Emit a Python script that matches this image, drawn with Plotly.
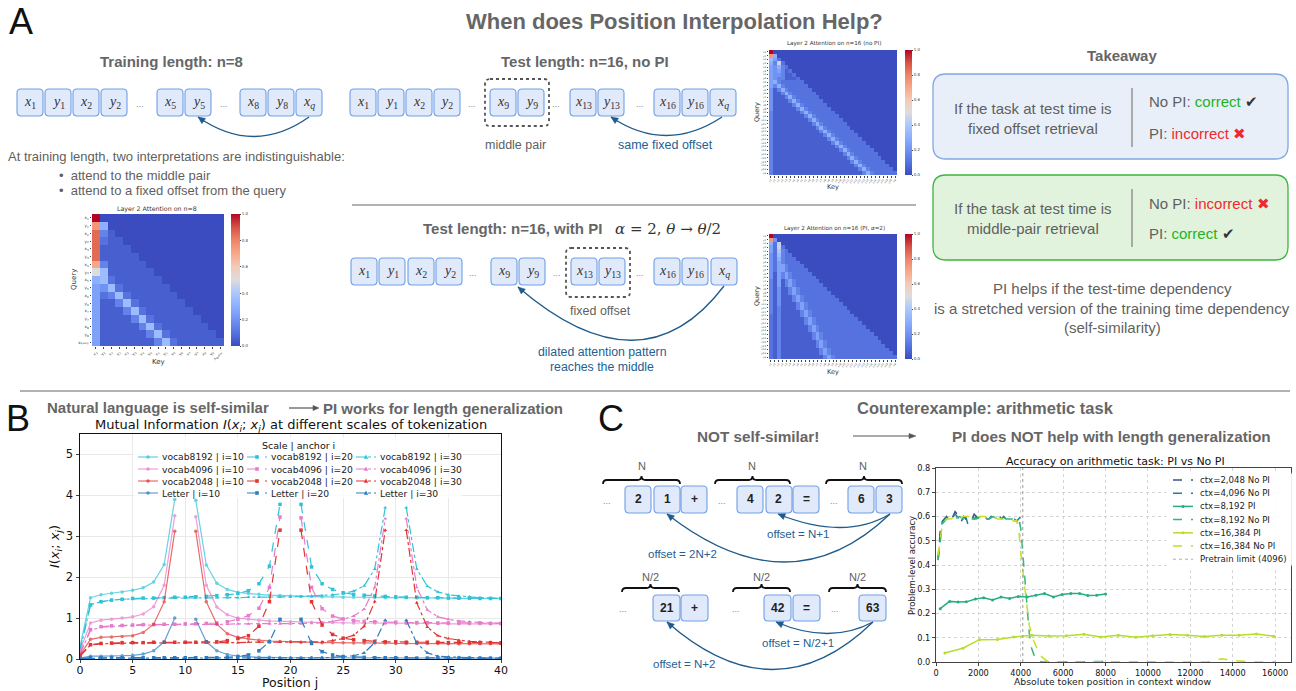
import plotly.graph_objects as go

W, H = 1296, 691

# ======================= DATA =======================
# ---- Panel B: mutual information I(x_i; x_j) vs position j ----
positions_j = list(range(41))
mi_vocab8192_i10 = [0.30,1.50,1.57,1.61,1.64,1.68,1.74,1.88,2.31,3.90,None,3.88,2.30,1.85,1.70,1.63,1.60,1.58,1.56,1.55,1.54,1.53,1.53,1.52,1.52,1.51,1.51,1.51,1.50,1.50,1.50,1.50,1.49,1.49,1.49,1.49,1.48,1.48,1.48,1.48,1.48]
mi_vocab8192_i20 = [0.25,1.32,1.40,1.44,1.46,1.48,1.49,1.49,1.50,1.51,1.51,1.52,1.53,1.55,1.57,1.60,1.67,1.84,2.27,3.78,None,3.78,2.25,1.84,1.70,1.62,1.58,1.56,1.54,1.53,1.52,1.51,1.51,1.50,1.50,1.49,1.49,1.49,1.48,1.48,1.48]
mi_vocab8192_i30 = [0.20,1.33,1.40,1.44,1.46,1.47,1.48,1.48,1.49,1.49,1.49,1.50,1.50,1.50,1.50,1.50,1.51,1.51,1.51,1.52,1.52,1.53,1.54,1.55,1.57,1.60,1.66,1.79,2.20,3.70,None,3.70,2.20,1.78,1.64,1.57,1.54,1.52,1.50,1.49,1.48]
mi_vocab4096_i10 = [0.20,0.88,0.95,0.97,1.00,1.03,1.10,1.28,1.80,3.50,None,3.48,1.80,1.27,1.08,1.00,0.97,0.95,0.93,0.92,0.91,0.90,0.90,0.89,0.89,0.88,0.88,0.88,0.88,0.87,0.87,0.87,0.87,0.87,0.87,0.86,0.86,0.86,0.86,0.86,0.86]
mi_vocab4096_i20 = [0.15,0.72,0.79,0.81,0.82,0.83,0.84,0.84,0.85,0.85,0.86,0.86,0.87,0.88,0.91,0.97,1.06,1.24,1.75,3.47,None,3.45,1.75,1.23,1.05,0.98,0.94,0.92,0.91,0.90,0.90,0.89,0.89,0.89,0.88,0.88,0.88,0.88,0.88,0.87,0.87]
mi_vocab4096_i30 = [0.12,0.70,0.78,0.80,0.81,0.82,0.83,0.83,0.84,0.84,0.84,0.85,0.85,0.85,0.85,0.86,0.86,0.86,0.86,0.86,0.86,0.86,0.87,0.89,0.92,0.97,1.05,1.22,1.75,3.43,None,3.43,1.75,1.20,1.03,0.97,0.93,0.91,0.89,0.88,0.88]
mi_vocab2048_i10 = [0.10,0.48,0.53,0.54,0.55,0.57,0.65,0.85,1.40,3.12,None,3.12,1.40,0.85,0.62,0.53,0.49,0.46,0.44,0.43,0.42,0.41,0.41,0.40,0.40,0.40,0.39,0.39,0.39,0.39,0.38,0.38,0.38,0.38,0.38,0.37,0.37,0.37,0.37,0.37,0.37]
mi_vocab2048_i20 = [0.08,0.35,0.38,0.39,0.40,0.40,0.40,0.41,0.41,0.41,0.41,0.41,0.42,0.42,0.45,0.50,0.57,0.80,1.40,3.15,None,3.15,1.40,0.83,0.60,0.51,0.47,0.45,0.43,0.42,0.42,0.41,0.41,0.41,0.41,0.40,0.40,0.40,0.40,0.40,0.40]
mi_vocab2048_i30 = [0.07,0.34,0.37,0.38,0.38,0.39,0.39,0.39,0.39,0.40,0.40,0.40,0.40,0.40,0.40,0.40,0.41,0.41,0.41,0.41,0.41,0.41,0.42,0.42,0.45,0.50,0.58,0.80,1.40,3.15,None,3.15,1.37,0.78,0.57,0.50,0.46,0.43,0.42,0.41,0.38]
mi_letter_i10 = [0.02,0.07,0.07,0.07,0.08,0.09,0.12,0.20,0.42,1.00,None,0.97,0.42,0.20,0.11,0.07,0.05,0.04,0.04,0.03,0.03,0.03,0.03,0.03,0.03,0.03,0.02,0.02,0.02,0.02,0.02,0.02,0.02,0.02,0.02,0.02,0.02,0.02,0.02,0.02,0.02]
mi_letter_i20 = [0.01,0.03,0.03,0.03,0.03,0.03,0.03,0.03,0.03,0.03,0.03,0.03,0.03,0.03,0.04,0.06,0.10,0.20,0.42,0.97,None,0.97,0.38,0.18,0.10,0.06,0.05,0.04,0.03,0.03,0.03,0.03,0.02,0.02,0.02,0.02,0.02,0.02,0.02,0.02,0.02]
mi_letter_i30 = [0.01,0.02,0.02,0.02,0.02,0.02,0.02,0.02,0.02,0.02,0.02,0.02,0.02,0.02,0.02,0.02,0.02,0.02,0.02,0.02,0.02,0.02,0.03,0.03,0.04,0.06,0.08,0.15,0.40,0.95,None,0.95,0.38,0.15,0.07,0.05,0.04,0.03,0.03,0.02,0.02]

scale_names = ["vocab8192", "vocab4096", "vocab2048", "Letter"]
anchor_ids = [10, 20, 30]
mi_series = {
    ("vocab8192", 10): mi_vocab8192_i10, ("vocab8192", 20): mi_vocab8192_i20, ("vocab8192", 30): mi_vocab8192_i30,
    ("vocab4096", 10): mi_vocab4096_i10, ("vocab4096", 20): mi_vocab4096_i20, ("vocab4096", 30): mi_vocab4096_i30,
    ("vocab2048", 10): mi_vocab2048_i10, ("vocab2048", 20): mi_vocab2048_i20, ("vocab2048", 30): mi_vocab2048_i30,
    ("Letter", 10): mi_letter_i10, ("Letter", 20): mi_letter_i20, ("Letter", 30): mi_letter_i30,
}

# ---- Panel C: accuracy vs absolute token position ----
acc_2048_nopi_x = [100,200,300,400,500,600,700,800,900,1000,1100,1200,1300,1400,1500,1600,1700,1800,1900,2000]
acc_2048_nopi_y = [0.43,0.54,0.58,0.59,0.60,0.59,0.61,0.60,0.62,0.61,0.59,0.58,0.60,0.59,0.60,0.60,0.59,0.61,0.60,0.59]
acc_4096_nopi_x = [100,200,300,400,500,600,700,800,900,1000,1100,1200,1300,1400,1500,1600,1700,1800,1900,2000,
                   2100,2200,2300,2400,2500,2600,2700,2800,2900,3000,3100,3200,3300,3400,3500,3600,3700,3800,3900,4000]
acc_4096_nopi_y = [0.42,0.53,0.58,0.59,0.60,0.60,0.59,0.60,0.61,0.60,0.59,0.60,0.59,0.60,0.57,0.59,0.60,0.59,0.60,0.59,
                   0.59,0.59,0.60,0.59,0.59,0.60,0.59,0.59,0.60,0.60,0.59,0.60,0.59,0.59,0.59,0.59,0.59,0.58,0.59,0.60]
acc_8192_pi_x = [200,640,1040,1430,1860,2250,2670,3070,3470,3880,4300,4710,5120,5540,5950,6360,6780,7160,7580,8000]
acc_8192_pi_y = [0.22,0.25,0.247,0.248,0.26,0.265,0.256,0.268,0.262,0.27,0.268,0.275,0.282,0.268,0.278,0.282,0.282,0.274,0.275,0.28]
acc_8192_nopi_x = [100,300,500,700,900,1100,1300,1500,1700,1900,2100,2300,2500,2700,2900,3100,3300,3500,3700,3900,
                   4000,4100,4200,4300,4400,4500,4600,4700,4800,5000,5500,6000,6500,7000,7500,8000]
acc_8192_nopi_y = [0.42,0.57,0.59,0.60,0.59,0.60,0.59,0.60,0.59,0.59,0.60,0.59,0.59,0.60,0.59,0.60,0.59,0.59,0.59,0.59,
                   0.55,0.44,0.32,0.20,0.12,0.06,0.03,0.01,0.005,0.0,0.0,0.001,0.0,0.002,0.003,0.002]
acc_16384_pi_x = [420,1270,2050,2900,3670,4530,5330,6150,6980,7780,8600,9430,10230,11040,11860,12670,13490,14300,15120,15950]
acc_16384_pi_y = [0.037,0.057,0.092,0.093,0.103,0.11,0.107,0.108,0.114,0.103,0.11,0.102,0.108,0.113,0.11,0.105,0.11,0.11,0.115,0.106]
acc_16384_nopi_x = [100,300,500,700,900,1100,1300,1500,1700,1900,2100,2300,2500,2700,2900,3100,3300,3500,3700,
                    3800,3900,4000,4200,4400,4600,4800,5000,5300,6000,7000,8000,9000,10000,11000,12000,12800,
                    13500,14000,14500,15000,16000]
acc_16384_nopi_y = [0.44,0.57,0.59,0.59,0.60,0.59,0.60,0.60,0.60,0.60,0.60,0.60,0.59,0.60,0.59,0.59,0.59,0.59,0.58,
                    0.585,0.55,0.45,0.30,0.15,0.09,0.05,0.02,0.0,0.0,0.001,0.002,0.0,0.001,0.0,0.0,0.0,
                    0.013,0.006,0.003,0.0,0.0]
pretrain_limit = 4096
acc_names = ["ctx=2,048 No PI", "ctx=4,096 No PI", "ctx=8,192 PI", "ctx=8,192 No PI", "ctx=16,384 PI", "ctx=16,384 No PI"]

# ---- Attention heatmaps: one char per cell, value = base36(char)/20 ----
heat_n8_rows = [
    "k", "f6", "h31", "h211", "h1111", "h11111", "e311111", "a7111111",
    "672111111", "5472111111", "52372111111", "511372111111", "5111372111111",
    "51111372111111", "511111372111111", "5111111372111111", "51111111372111111",
]
heat_n16_nopi_rows = [
    "k", "f6", "752", "6392", "54632", "545312", "5443112", "54331112",
    "563222222", "5363222222", "41363222222", "411363222222", "4111363222222",
    "41111363222222", "411111363222222", "4111111363222222", "31111111363222222",
    "311111111363222222", "3111111111363222222", "31111111111363222222",
    "311111111111363222222", "3111111111111363222222", "31111111111111363222222",
    "311111111111111363222222", "3111111111111111363222222", "31111111111111111363222222",
    "311111111111111111363222222", "3111111111111111111363222222", "31111111111111111111363222222",
    "311111111111111111111363222222", "3111111111111111111111363222222",
    "31111111111111111111111363222222", "311111111111111111111111363222222",
]
heat_n16_pi_rows = [
    "k", "f4", "629", "5292", "52832", "427322", "4263222", "42532222",
    "425532222", "4255322222", "41535322222", "415353222222", "3151353222222",
    "31513532222222", "314113532222222", "3141135322222222", "31411135322222222",
    "314111353222222222", "3141111353222222222", "31311113532222222222",
    "313111113532222222222", "2131111135322222222222", "21311111135322222222222",
    "213111111353222222222222", "2131111111353222222222222", "21311111113532222222222222",
    "213111111113532222222222222", "2131111111135322222222222222", "21311111111135322222222222222",
    "213111111111353222222222222222", "2131111111111353222222222222222",
    "21311111111113532222222222222222", "213111111111113532222222222222222",
]
heat_n8_labels = ["x<sub>1</sub>","y<sub>1</sub>","x<sub>2</sub>","y<sub>2</sub>","x<sub>3</sub>","y<sub>3</sub>",
                  "x<sub>4</sub>","y<sub>4</sub>","x<sub>5</sub>","y<sub>5</sub>","x<sub>6</sub>","y<sub>6</sub>",
                  "x<sub>7</sub>","y<sub>7</sub>","x<sub>8</sub>","y<sub>8</sub>","x<sub>query</sub>"]
heat_n16_labels = ["x1","y1","x2","y2","x3","y3","x4","y4","x5","y5","x6","y6","x7","y7","x8","y8",
                   "x9","y9","x10","y10","x11","y11","x12","y12","x13","y13","x14","y14","x15","y15",
                   "x16","y16","xq"]

# ---- Diagram token sequences ----
train_tokens = ["x1","y1","x2","y2","...","x5","y5","...","x8","y8","xq"]
test_tokens_nopi = ["x1","y1","x2","y2","...","x9","y9","...","x13","y13","...","x16","y16","xq"]
test_tokens_pi = ["x1","y1","x2","y2","...","x9","y9","...","x13","y13","...","x16","y16","xq"]
arith_row1 = ["...","2","1","+","...","4","2","=","...","6","3"]
arith_row2 = ["...","21","+","...","42","=","...","63"]

# ======================= HELPERS =======================
def X(p): return p / W
def Y(p): return 1 - p / H

fig = go.Figure()
shapes = []

def T(x, y, text, size=11, color="#555", family="Liberation Sans", xanchor="center", angle=0):
    fig.add_annotation(x=X(x), y=Y(y), xref="paper", yref="paper", text=text, showarrow=False,
                       font=dict(size=size, color=color, family=family), xanchor=xanchor,
                       yanchor="middle", textangle=angle, borderpad=0)

def P(x, y): return f"{X(x):.5f},{Y(y):.5f}"

def rrect(x0, y0, x1, y1, r, fill, line, width=1.0, dash="solid", layer="below"):
    path = (f"M {P(x0+r,y0)} L {P(x1-r,y0)} Q {P(x1,y0)} {P(x1,y0+r)} L {P(x1,y1-r)} "
            f"Q {P(x1,y1)} {P(x1-r,y1)} L {P(x0+r,y1)} Q {P(x0,y1)} {P(x0,y1-r)} "
            f"L {P(x0,y0+r)} Q {P(x0,y0)} {P(x0+r,y0)} Z")
    shapes.append(dict(type="path", path=path, xref="paper", yref="paper", fillcolor=fill,
                       line=dict(color=line, width=width, dash=dash), layer=layer))

def seg(x0, y0, x1, y1, color="#777", width=1.0, dash="solid", opacity=1.0):
    shapes.append(dict(type="line", x0=X(x0), y0=Y(y0), x1=X(x1), y1=Y(y1), xref="paper", yref="paper",
                       line=dict(color=color, width=width, dash=dash), opacity=opacity, layer="above"))

def head(tx, ty, dx, dy, color, L=7, hw=3.2):
    n = (dx*dx + dy*dy) ** 0.5
    dx, dy = dx/n, dy/n
    bx, by = tx - L*dx, ty - L*dy
    nx, ny = -dy, dx
    path = f"M {P(tx,ty)} L {P(bx+hw*nx,by+hw*ny)} L {P(bx-hw*nx,by-hw*ny)} Z"
    shapes.append(dict(type="path", path=path, xref="paper", yref="paper", fillcolor=color,
                       line=dict(color=color, width=0.5)))

def curve_arrow(p0, c, p2, color="#1f5a8a", width=1.3):
    path = f"M {P(*p0)} Q {P(*c)} {P(*p2)}"
    shapes.append(dict(type="path", path=path, xref="paper", yref="paper",
                       line=dict(color=color, width=width)))
    head(p2[0], p2[1], p2[0]-c[0], p2[1]-c[1], color)

def brace(x0, x1, yb, h=8, color="#111"):
    ym, yt, xm, q = yb - h/2, yb - h, (x0+x1)/2, h/2
    path = (f"M {P(x0,yb)} Q {P(x0,ym)} {P(x0+q,ym)} L {P(xm-q,ym)} Q {P(xm,ym)} {P(xm,yt)} "
            f"Q {P(xm,ym)} {P(xm+q,ym)} L {P(x1-q,ym)} Q {P(x1,ym)} {P(x1,yb)}")
    shapes.append(dict(type="path", path=path, xref="paper", yref="paper", line=dict(color=color, width=1.8)))

def mark(x, y, symbol, color, r=1.9, opacity=1.0):
    if symbol == "circle":
        shapes.append(dict(type="circle", x0=X(x-r), x1=X(x+r), y0=Y(y+r), y1=Y(y-r), xref="paper",
                           yref="paper", fillcolor=color, line=dict(width=0), opacity=opacity, layer="above"))
    elif symbol == "square":
        shapes.append(dict(type="rect", x0=X(x-r), x1=X(x+r), y0=Y(y+r), y1=Y(y-r), xref="paper",
                           yref="paper", fillcolor=color, line=dict(width=0), opacity=opacity, layer="above"))
    else:
        path = f"M {P(x, y-r-0.6)} L {P(x+r+0.4, y+r)} L {P(x-r-0.4, y+r)} Z"
        shapes.append(dict(type="path", path=path, xref="paper", yref="paper", fillcolor=color,
                           line=dict(width=0), opacity=opacity, layer="above"))

def tok_html(t):
    if t[0] in "xy":
        s = t[1:]
        if s == "q":
            return f"<i>{t[0]}<sub>q</sub></i>"
        return f"<i>{t[0]}</i><sub>{s}</sub>"
    return f"<b>{t}</b>"

TOK_FILL, TOK_LINE = "#e1eafa", "#6f9fe6"

def token_row(tokens, pos, y0, y1, w, math=True):
    for t, p in zip(tokens, pos):
        if t == "...":
            T(p, (y0+y1)/2 + 1, "...", 9, "#888")
        else:
            rrect(p, y0, p+w, y1, 4, TOK_FILL, TOK_LINE, 1.1)
            if math:
                T(p + w/2, (y0+y1)/2, tok_html(t), 14, "#333", "Liberation Serif")
            else:
                T(p + w/2, (y0+y1)/2, tok_html(t), 12, "#222", "Liberation Sans")

# ======================= PANEL B CHART =======================
scale_colors = {"vocab8192": "#2ec3d6", "vocab4096": "#e67ccb", "vocab2048": "#e03636", "Letter": "#2f7cc0"}
anchor_dash = {10: "solid", 20: "dash", 30: "dashdot"}
anchor_symbol = {10: "circle", 20: "square", 30: "triangle-up"}
anchor_opacity = {10: 0.72, 20: 1.0, 30: 1.0}
for s in scale_names:
    for a in anchor_ids:
        fig.add_trace(go.Scatter(
            x=positions_j, y=mi_series[(s, a)], mode="lines+markers", name=f"{s} | i={a}",
            line=dict(color=scale_colors[s], width=1.2, dash=anchor_dash[a]),
            marker=dict(symbol=anchor_symbol[a], size=3.5, color=scale_colors[s]),
            opacity=anchor_opacity[a], connectgaps=False, xaxis="x", yaxis="y", showlegend=False))

# legend for panel B (3 columns x 4 rows, drawn compactly like the original)
rrect(134, 437, 462, 498, 3, "rgba(255,255,255,0.8)", "rgba(255,255,255,0)", 0, layer="above")
T(298, 445, "Scale | anchor i", 9.5, "#111", "DejaVu Sans")
col_x = {10: 138, 20: 247, 30: 356}
for ri, s in enumerate(scale_names):
    yy = 457 + 12 * ri
    for a in anchor_ids:
        xx = col_x[a]
        seg(xx, yy, xx + 20, yy, scale_colors[s], 1.2, anchor_dash[a], anchor_opacity[a])
        mark(xx + 10, yy, anchor_symbol[a], scale_colors[s], 1.8, anchor_opacity[a])
        T(xx + 23, yy, f"{s} | i={a}", 9.2, "#222", "DejaVu Sans", xanchor="left")

# ======================= PANEL C CHART =======================
acc_colors = ["#3d4f8a", "#23808e", "#27ad81", "#35b779", "#b5dd2b", "#c4e021"]
acc_dash = ["dash", "dash", "solid", "dash", "solid", "dash"]
acc_markers = [False, False, True, False, True, False]
acc_data = [(acc_2048_nopi_x, acc_2048_nopi_y), (acc_4096_nopi_x, acc_4096_nopi_y),
            (acc_8192_pi_x, acc_8192_pi_y), (acc_8192_nopi_x, acc_8192_nopi_y),
            (acc_16384_pi_x, acc_16384_pi_y), (acc_16384_nopi_x, acc_16384_nopi_y)]
for (xs, ys), nm, col, dsh, mk in zip(acc_data, acc_names, acc_colors, acc_dash, acc_markers):
    fig.add_trace(go.Scatter(x=xs, y=ys, name=nm, mode="lines+markers" if mk else "lines",
                             line=dict(color=col, width=1.5, dash=dsh), marker=dict(size=3, color=col),
                             xaxis="x2", yaxis="y2", showlegend=False))
fig.add_trace(go.Scatter(x=[pretrain_limit, pretrain_limit], y=[0, 0.8], mode="lines",
                         name=f"Pretrain limit ({pretrain_limit})",
                         line=dict(color="#999", width=1, dash="dot"), xaxis="x2", yaxis="y2", showlegend=False))

# legend for panel C
rrect(1166, 472, 1292, 567, 3, "rgba(255,255,255,0.9)", "rgba(255,255,255,0)", 0, layer="above")
leg_names = acc_names + [f"Pretrain limit ({pretrain_limit})"]
leg_cols = acc_colors + ["#aaa"]
leg_dash = acc_dash + ["dot"]
leg_mk = acc_markers + [False]
for k, (nm, col, dsh, mk) in enumerate(zip(leg_names, leg_cols, leg_dash, leg_mk)):
    yy = 480 + 13.2 * k
    seg(1173, yy, 1193, yy, col, 1.5 if k < 6 else 1.0, dsh)
    if mk:
        mark(1183, yy, "circle", col, 1.5)
    T(1199, yy, nm, 8.6, "#222", "DejaVu Sans", xanchor="left")

# ======================= HEATMAPS =======================
coolwarm = [[0.0, "#3b4cc0"], [0.1, "#5572df"], [0.2, "#7093f3"], [0.3, "#8db0fe"], [0.4, "#aac7fd"],
            [0.5, "#dddcdc"], [0.6, "#f2cbb7"], [0.7, "#f7a889"], [0.8, "#ee8468"], [0.9, "#d65244"],
            [1.0, "#b40426"]]

def decode(rows, n):
    return [[int(ch, 36) / 20 for ch in r.ljust(n, "0")[:n]] for r in rows]

def add_heat(rows, labels, xa, ya, box, cbx, cbth, tickfs):
    n = len(labels)
    x0, y0, x1, y1 = box
    fig.add_trace(go.Heatmap(
        z=decode(rows, n), x=list(range(n)), y=list(range(n)), colorscale=coolwarm, zmin=0, zmax=1,
        xaxis=xa, yaxis=ya, xgap=0, ygap=0, hoverinfo="skip",
        colorbar=dict(x=X(cbx), xanchor="left", xpad=0, ypad=0, y=(Y(y0)+Y(y1))/2, yanchor="middle",
                      len=(y1-y0)/H, lenmode="fraction", thickness=cbth, outlinewidth=0, ticks="outside",
                      ticklen=1.5, tickvals=[0, 0.2, 0.4, 0.6, 0.8, 1.0],
                      ticktext=["0.0", "0.2", "0.4", "0.6", "0.8", "1.0"],
                      tickfont=dict(size=4, color="#444"))))
    ax = dict(domain=[X(x0), X(x1)], range=[-0.5, n-0.5], showgrid=False, zeroline=False,
              tickvals=list(range(n)), ticktext=labels, tickfont=dict(size=tickfs, color="#444"),
              ticks="outside", ticklen=1.5, tickangle=-50, showline=False, anchor=ya, automargin=False)
    ay = dict(domain=[Y(y1), Y(y0)], range=[n-0.5, -0.5], showgrid=False, zeroline=False,
              tickvals=list(range(n)), ticktext=labels, tickfont=dict(size=tickfs, color="#444"),
              ticks="outside", ticklen=1.5, showline=False, anchor=xa, automargin=False)
    return ax, ay

ax3, ay3 = add_heat(heat_n8_rows, heat_n8_labels, "x3", "y3", (92, 214, 224, 346), 231, 9, 4)
ax4, ay4 = add_heat(heat_n16_nopi_rows, heat_n16_labels, "x4", "y4", (769, 50, 897, 175), 905, 7, 2.5)
ax5, ay5 = add_heat(heat_n16_pi_rows, heat_n16_labels, "x5", "y5", (769, 234, 897, 359), 905, 7, 2.5)

T(157, 209, "Layer 2 Attention on n=8", 6.3, "#333", "DejaVu Sans")
T(74, 280, "Query", 7, "#333", "DejaVu Sans", angle=-90)
T(158, 362, "Key", 7, "#333", "DejaVu Sans")
T(834, 44, "Layer 2 Attention on n=16 (no PI)", 5.6, "#333", "DejaVu Sans")
T(757, 112, "Query", 6.5, "#333", "DejaVu Sans", angle=-90)
T(833, 187, "Key", 6.5, "#333", "DejaVu Sans")
T(834, 229, "Layer 2 Attention on n=16 (PI, <i>α</i>=2)", 5.6, "#333", "DejaVu Sans")
T(757, 296, "Query", 6.5, "#333", "DejaVu Sans", angle=-90)
T(833, 372, "Key", 6.5, "#333", "DejaVu Sans")

# ======================= PANEL A DIAGRAM =======================
GRAY = "#5f5f5f"
BLUE_T = "#245f93"
T(21, 22, "A", 36, "#111")
T(674, 21, "<b>When does Position Interpolation Help?</b>", 22, "#666")
T(171, 62, "<b>Training length: n=8</b>", 15, "#666")
T(585, 62, "<b>Test length: n=16, no PI</b>", 15, "#666")

train_pos = [17, 45, 73, 101, 140, 157, 185, 224, 240, 268, 296]
nopi_pos = [350, 378, 406, 434, 472, 490, 518, 556, 570, 598, 640, 654, 682, 710]
pi_pos = [351, 379, 408, 436, 473, 491, 519, 557, 571, 599, 640, 654, 682, 711]
token_row(train_tokens, train_pos, 89, 116, 26)
token_row(test_tokens_nopi, nopi_pos, 89, 116, 26)
token_row(test_tokens_pi, pi_pos, 258, 285, 26)

rrect(485, 79, 549, 126, 5, "rgba(0,0,0,0)", "#555", 1.8, "dot")
rrect(566, 248, 630, 297, 5, "rgba(0,0,0,0)", "#555", 1.8, "dot")

curve_arrow((309, 117), (254, 156), (198, 117))
curve_arrow((722, 117), (666, 154), (611, 117))
curve_arrow((724, 286), (642, 394), (518, 287))

T(515, 145, "middle pair", 12.5, GRAY)
T(665, 145, "same fixed offset", 12.5, BLUE_T)
T(600, 311, "fixed offset", 12.5, GRAY)
T(602, 352, "dilated attention pattern", 12.3, BLUE_T)
T(602, 367, "reaches the middle", 12.3, BLUE_T)

T(7, 157, "At training length, two interpretations are indistinguishable:", 13, GRAY, xanchor="left")
T(58, 175, "•  attend to the middle pair", 13, GRAY, xanchor="left")
T(58, 190, "•  attend to a fixed offset from the query", 13, GRAY, xanchor="left")

seg(352, 205, 916, 205, "#666", 1.2)
T(512, 229, "<b>Test length: n=16, with PI</b>", 15, "#666")
T(614, 229, "<i>α</i> = 2, <i>θ</i> → <i>θ</i>/2", 15, "#333", "DejaVu Serif", xanchor="left")

# Takeaway panel
T(1122, 55, "<b>Takeaway</b>", 15, "#666")
rrect(933, 74, 1288, 159, 13, "#e9eff9", "#7ea8e3", 1.3)
rrect(933, 175, 1288, 260, 13, "#e2f3dd", "#3db43d", 1.3)
seg(1132, 88, 1132, 147, "#999", 1.6)
seg(1132, 189, 1132, 247, "#999", 1.6)
T(1033, 109, "If the task at test time is", 15, GRAY)
T(1033, 128, "fixed offset retrieval", 15, GRAY)
T(1033, 209, "If the task at test time is", 15, GRAY)
T(1033, 228, "middle-pair retrieval", 15, GRAY)
GREEN_T, RED_T = "#22b322", "#ee2b2b"
T(1148, 102, f"No PI: <span style='color:{GREEN_T}'>correct</span> <span style='color:#333'>✔</span>", 15, GRAY, xanchor="left")
T(1148, 134, f"PI: <span style='color:{RED_T}'>incorrect</span> <span style='color:{RED_T}'>✖</span>", 15, GRAY, xanchor="left")
T(1148, 203, f"No PI: <span style='color:{RED_T}'>incorrect</span> <span style='color:{RED_T}'>✖</span>", 15, GRAY, xanchor="left")
T(1148, 233, f"PI: <span style='color:{GREEN_T}'>correct</span> <span style='color:#333'>✔</span>", 15, GRAY, xanchor="left")
T(1112, 289, "PI helps if the test-time dependency", 15, GRAY)
T(1112, 308, "is a stretched version of the training time dependency", 15, GRAY)
T(1112, 327, "(self-similarity)", 15, GRAY)

seg(20, 391, 1290, 391, "#999", 1.6)

# ======================= PANEL B / C HEADERS =======================
T(18, 418, "B", 36, "#111")
T(46, 407.5, "<b>Natural language is self-similar</b>", 15, "#666", xanchor="left")
seg(289, 408, 313, 408, "#555", 1.2)
head(319, 408, 1, 0, "#555", 6, 2.6)
T(322, 408.5, "<b>PI works for length generalization</b>", 15, "#666", xanchor="left")
T(291, 425.5, "Mutual Information <i>I</i>(<i>x<sub>i</sub></i>; <i>x<sub>j</sub></i>) at different scales of tokenization",
  13, "#111", "DejaVu Sans")
T(290, 682.5, "Position j", 12.5, "#111", "DejaVu Sans")
T(55, 547, "<i>I</i>(<i>x<sub>i</sub></i>; <i>x<sub>j</sub></i>)", 13, "#111", "DejaVu Sans", angle=-90)

T(611, 418, "C", 36, "#111")
T(985, 408, "<b>Counterexample: arithmetic task</b>", 16.5, "#666")
T(758, 436, "<b>NOT self-similar!</b>", 15.3, "#666")
seg(853, 436, 909, 436, "#555", 1.2)
head(916, 436, 1, 0, "#555", 7, 2.6)
T(1111, 437, "<b>PI does NOT help with length generalization</b>", 15.3, "#666")

# Arithmetic diagram
arith1_pos = [607, 625, 654, 681, 722, 737, 766, 793, 834, 848, 876]
arith2_pos = [623, 653, 681, 736, 764, 793, 835, 859]
token_row(arith_row1, arith1_pos, 486, 513, 26, math=False)
token_row(arith_row2, arith2_pos, 595, 621, 27, math=False)
for (a, b, lx) in [(603, 680, 642), (715, 790, 752), (826, 902, 863)]:
    brace(a, b, 484, 8)
    T(lx, 466, "N", 11, GRAY)
for (a, b, lx) in [(622, 679, 650), (733, 790, 761), (829, 886, 857)]:
    brace(a, b, 592, 8)
    T(lx, 577, "N/2", 11, GRAY)
curve_arrow((890, 514), (845, 541), (778, 514))
curve_arrow((890, 514), (790, 610), (667, 514))
curve_arrow((873, 622), (830, 645), (776, 622))
curve_arrow((873, 622), (775, 717), (667, 622))
T(798, 534, "offset = N+1", 11.5, BLUE_T)
T(683, 554, "offset = 2N+2", 11.5, BLUE_T)
T(798, 643, "offset = N/2+1", 11.5, BLUE_T)
T(684, 664, "offset = N+2", 11.5, BLUE_T)

# Panel C chart labels
T(1115, 461, "Accuracy on arithmetic task: PI vs No PI", 11, "#111", "DejaVu Sans")
T(1112, 681, "Absolute token position in context window", 9.3, "#222", "DejaVu Sans")
T(912, 566, "Problem-level accuracy", 8.5, "#222", "DejaVu Sans", angle=-90)

# ======================= LAYOUT =======================
fig.update_layout(
    width=W, height=H, margin=dict(l=0, r=0, t=0, b=0, pad=0, autoexpand=False), showlegend=False,
    paper_bgcolor="white", plot_bgcolor="white",
    font=dict(family="DejaVu Sans", color="#111"),
    shapes=shapes,
    xaxis=dict(domain=[X(80), X(501)], range=[0, 40], dtick=5, showline=True, mirror=True, linecolor="#111",
               linewidth=1, ticks="outside", ticklen=3, tickfont=dict(size=11), ticklabelstandoff=-2,
               gridcolor="#e9e9e9", zeroline=False, anchor="y", automargin=False),
    yaxis=dict(domain=[Y(659), Y(434)], range=[0, 5.5], dtick=1, showline=True, mirror=True, linecolor="#111",
               linewidth=1, ticks="outside", ticklen=3.5, tickfont=dict(size=11.5), gridcolor="#e9e9e9",
               zeroline=False, anchor="x", automargin=False),
    xaxis2=dict(domain=[X(936), X(1291)], range=[0, 16750], dtick=2000, tickformat="d", showline=True,
                mirror=True, linecolor="#444", linewidth=1.2, ticks="outside", ticklen=3,
                tickfont=dict(size=8.2), gridcolor="#d4d4d4", griddash="dot", zeroline=False, anchor="y2",
                automargin=False),
    yaxis2=dict(domain=[Y(662), Y(468)], range=[0, 0.8], dtick=0.1, tickformat=".1f", showline=True,
                mirror=True, linecolor="#444", linewidth=1.2, ticks="outside", ticklen=3,
                tickfont=dict(size=8.2), gridcolor="#d4d4d4", griddash="dot", zeroline=False, anchor="x2",
                automargin=False),
    xaxis3=ax3, yaxis3=ay3, xaxis4=ax4, yaxis4=ay4, xaxis5=ax5, yaxis5=ay5,
)

fig.write_html("out.html", post_script="document.body.style.margin='0';",
               config={"displayModeBar": False})
